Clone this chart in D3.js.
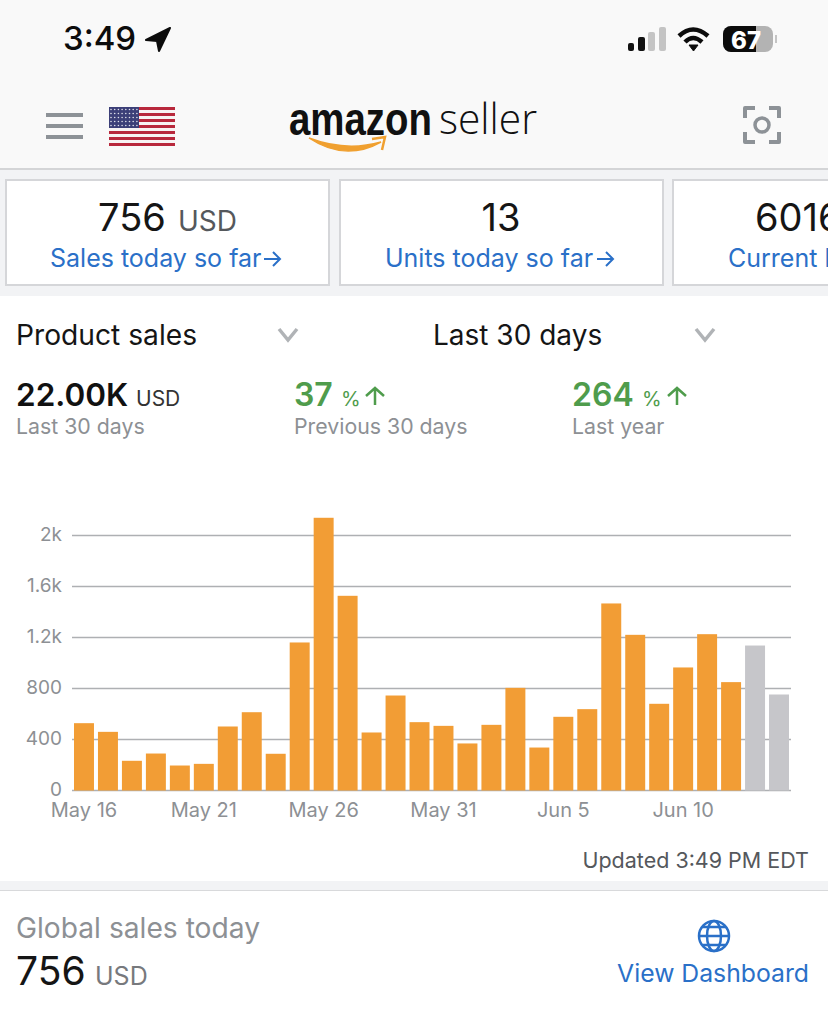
<!DOCTYPE html>
<html>
<head>
<meta charset="utf-8">
<script src="https://d3js.org/d3.v7.min.js"></script>
<style>
  html, body { margin: 0; padding: 0; background: #fff; }
  svg { display: block; font-family: Inter, Roboto, sans-serif; }
</style>
</head>
<body>
<svg id="chart" width="828" height="1010"></svg>
<script>
// chart values
var days = ["May 16","May 17","May 18","May 19","May 20","May 21","May 22","May 23","May 24","May 25",
  "May 26","May 27","May 28","May 29","May 30","May 31","Jun 1","Jun 2","Jun 3","Jun 4",
  "Jun 5","Jun 6","Jun 7","Jun 8","Jun 9","Jun 10","Jun 11","Jun 12","Jun 13","Jun 14"];
var sales = [528,460,233,290,196,209,502,614,288,1161,
  2139,1527,455,745,536,507,369,515,805,337,
  578,638,1467,1221,680,965,1226,850,1137,753];
var pendingDays = ["Jun 13","Jun 14"];
var xTicks = ["May 16","May 21","May 26","May 31","Jun 5","Jun 10"];
var yTicks = [0,400,800,1200,1600,2000];
var yLabels = ["0","400","800","1.2k","1.6k","2k"];

var svg = d3.select("#chart");

function addText(x, y, str, size, color, anchor, weight) {
  return svg.append("text")
    .attr("x", x).attr("y", y)
    .attr("font-size", size)
    .attr("fill", color)
    .attr("text-anchor", anchor || "start")
    .attr("font-weight", weight || 400)
    .text(str);
}

function addPath(d, stroke, width, fill) {
  return svg.append("path")
    .attr("d", d)
    .attr("fill", fill || "none")
    .attr("stroke", stroke || "none")
    .attr("stroke-width", width || 0);
}

// page bands
svg.append("rect").attr("width", 828).attr("height", 170).attr("fill", "#f9f9f9");
svg.append("rect").attr("y", 169).attr("width", 828).attr("height", 127).attr("fill", "#f2f3f5");
svg.append("rect").attr("y", 168).attr("width", 828).attr("height", 2).attr("fill", "#d4d5d7");
svg.append("rect").attr("y", 881).attr("width", 828).attr("height", 9).attr("fill", "#f2f3f5");
svg.append("rect").attr("y", 890).attr("width", 828).attr("height", 1).attr("fill", "#d8d9db");

// status bar
addText(63, 50, "3:49", 33, "#0c0c0c", "start", 500);
addPath("M170 28 L146 40 L157 41 L159 51 Z", "#0c0c0c", 2, "#0c0c0c").attr("stroke-linejoin", "round");
[[628, 43, 6, 8, "#111"], [638, 37, 7, 14, "#111"], [648, 32, 7, 19, "#c4c4c4"], [659, 27, 7, 24, "#c4c4c4"]].forEach(function (b) {
  svg.append("rect").attr("x", b[0]).attr("y", b[1]).attr("width", b[2]).attr("height", b[3]).attr("rx", 2).attr("fill", b[4]);
});
addPath("M679 36 Q693 23 708 36", "#0c0c0c", 4.5);
addPath("M685 42 Q693 34 702 42", "#0c0c0c", 4.5);
addPath("M689 45 L698 45 L693.5 51 Z", "#0c0c0c", 1, "#0c0c0c");
svg.append("rect").attr("x", 723).attr("y", 26).attr("width", 50).attr("height", 26).attr("rx", 8).attr("fill", "#b3b3b3");
svg.append("path").attr("d", "M731 26 H756 V52 H731 A8 8 0 0 1 723 44 V34 A8 8 0 0 1 731 26 Z").attr("fill", "#0c0c0c");
svg.append("rect").attr("x", 775).attr("y", 35).attr("width", 2).attr("height", 8).attr("fill", "#c4c4c4");
addText(746, 49, "67", 24, "#fff", "middle", 800);

// nav bar: menu icon
[113, 124, 135].forEach(function (y) {
  svg.append("rect").attr("x", 46).attr("y", y).attr("width", 37).attr("height", 4).attr("fill", "#8d9297");
});

// nav bar: flag
d3.range(13).forEach(function (i) {
  svg.append("rect").attr("x", 109).attr("y", 107 + i * 3)
    .attr("width", 66).attr("height", 3)
    .attr("fill", i % 2 == 0 ? "#b8283c" : "#f7f3f3");
});
svg.append("rect").attr("x", 109).attr("y", 107).attr("width", 30).attr("height", 21).attr("fill", "#3c3f78");
d3.range(5).forEach(function (r) {
  d3.range(8).forEach(function (c) {
    svg.append("circle").attr("cx", 111 + c * 3.7).attr("cy", 109.5 + r * 4).attr("r", 0.8).attr("fill", "#dfe0ea");
  });
});

// nav bar: logo
addText(289, 135, "amazon", 46, "#111", "start", 700)
  .attr("font-family", "'Liberation Sans Narrow', 'Liberation Sans', sans-serif")
  .attr("textLength", 143).attr("lengthAdjust", "spacingAndGlyphs");
addText(439, 134, "seller", 43, "#111", "start", 300)
  .attr("font-family", "'Open Sans', sans-serif")
  .attr("textLength", 98).attr("lengthAdjust", "spacingAndGlyphs");
addPath("M309 138 Q345 162 381 142 Q346 152 309 138 Z", "#f0a030", 1.5, "#f0a030");
addPath("M372 139 L385 137 L382 150", "#f0a030", 2.5);

// nav bar: scan icon
addPath("M745 118 V108 H755 M769 108 H779 V118 M779 132 V142 H769 M755 142 H745 V132", "#8d9297", 4).attr("stroke-linejoin", "round");
svg.append("circle").attr("cx", 762).attr("cy", 125).attr("r", 7).attr("fill", "none").attr("stroke", "#8d9297").attr("stroke-width", 3.5);

// summary cards
[[6, 323], [340, 323], [673, 170]].forEach(function (c) {
  svg.append("rect").attr("x", c[0]).attr("y", 180).attr("width", c[1]).attr("height", 105)
    .attr("fill", "#fff").attr("stroke", "#d5d6d9").attr("stroke-width", 2);
});
addText(98, 231, "756", 38, "#151515");
addText(178, 231, "USD", 28, "#55585c");
addText(50, 267, "Sales today so far", 25, "#2a70c8");
addPath("M264 259 H280 M273 252 L280 259 L273 266", "#2a70c8", 2);
addText(501, 231, "13", 38, "#151515", "middle");
addText(385, 267, "Units today so far", 25, "#2a70c8");
addPath("M597 259 H613 M606 252 L613 259 L606 266", "#2a70c8", 2);
addText(755, 231, "6016", 38, "#151515");
addText(728, 267, "Current balance", 25, "#2a70c8");

// dropdown row
addText(16, 345, "Product sales", 28.2, "#151515");
addPath("M279 329 L288 340 L297 329", "#b0b3b6", 3.5);
addText(433, 345, "Last 30 days", 28, "#151515");
addPath("M696 329 L705 340 L714 329", "#b0b3b6", 3.5);

// totals row
addText(16, 406, "22.00K", 31.5, "#111", "start", 600);
addText(136, 406, "USD", 21, "#333");
addText(16, 434, "Last 30 days", 21.3, "#8d9094");
addText(294, 406, "37", 32, "#4f9c4c", "start", 600);
addText(341, 406, "%", 20, "#4f9c4c");
addPath("M375 405 V388 M366 396 L375 388 L384 396", "#4f9c4c", 2.5);
addText(294, 434, "Previous 30 days", 21.3, "#8d9094");
addText(572, 406, "264", 32, "#4f9c4c", "start", 600);
addText(642, 406, "%", 20, "#4f9c4c");
addPath("M677 405 V388 M668 396 L677 388 L686 396", "#4f9c4c", 2.5);
addText(572, 434, "Last year", 21.3, "#8d9094");

// bar chart
var x = d3.scaleBand().domain(days).range([72, 791]).paddingInner(1 / 6).paddingOuter(1 / 12);
var y = d3.scaleLinear().domain([0, 2000]).range([790.5, 535.5]);

svg.append("g").selectAll("line").data(yTicks).join("line")
  .attr("x1", 72).attr("x2", 791)
  .attr("y1", function (d) { return y(d); })
  .attr("y2", function (d) { return y(d); })
  .attr("stroke", "#aeb0b3").attr("stroke-width", 1.5);

svg.append("g").selectAll("rect").data(days).join("rect")
  .attr("x", function (d) { return x(d); })
  .attr("width", x.bandwidth())
  .attr("y", function (d, i) { return y(sales[i]); })
  .attr("height", function (d, i) { return y(0) - y(sales[i]); })
  .attr("fill", function (d) { return pendingDays.indexOf(d) >= 0 ? "#c6c6ca" : "#f29d35"; });

var yAxis = d3.axisLeft(y).tickValues(yTicks)
  .tickFormat(function (d, i) { return yLabels[i]; })
  .tickSize(0).tickPadding(10);
var yG = svg.append("g").attr("transform", "translate(72,-1)").call(yAxis);
yG.select(".domain").remove();
yG.selectAll("text").attr("font-size", 19).attr("fill", "#8d9094").attr("font-family", "Inter, Roboto, sans-serif");

var xAxis = d3.axisBottom(x).tickValues(xTicks).tickSize(0).tickPadding(12);
var xG = svg.append("g").attr("transform", "translate(0,791)").call(xAxis);
xG.select(".domain").remove();
xG.selectAll("text").attr("font-size", 20).attr("fill", "#8d9094").attr("font-family", "Inter, Roboto, sans-serif");

addText(809, 868, "Updated 3:49 PM EDT", 21.5, "#55585c", "end");

// global sales footer
addText(16, 938, "Global sales today", 28.2, "#8d9094");
addText(16, 985, "756", 39, "#151515");
addText(95, 985, "USD", 25, "#77797d");
var gx = 714, gy = 936;
svg.append("circle").attr("cx", gx).attr("cy", gy).attr("r", 15).attr("fill", "none").attr("stroke", "#2a70c8").attr("stroke-width", 2.5);
svg.append("ellipse").attr("cx", gx).attr("cy", gy).attr("rx", 7).attr("ry", 15).attr("fill", "none").attr("stroke", "#2a70c8").attr("stroke-width", 2.5);
addPath("M699 936 H729 M702 927 H726 M702 945 H726", "#2a70c8", 2.5);
addText(809, 982, "View Dashboard", 24.75, "#2a70c8", "end");
</script>
</body>
</html>
